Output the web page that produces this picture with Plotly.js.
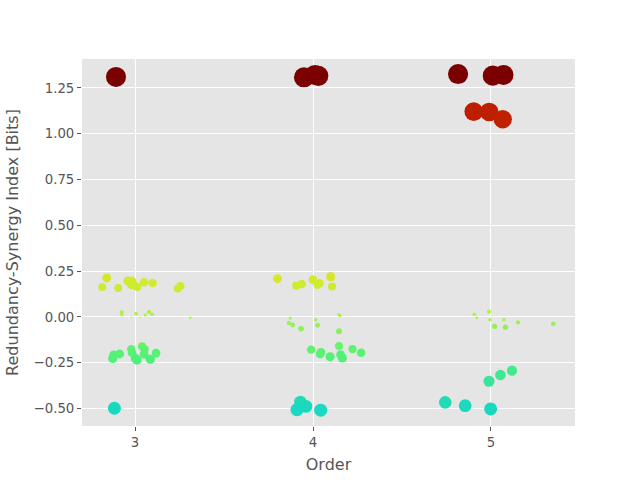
<!DOCTYPE html>
<html>
<head>
<meta charset="utf-8">
<script src="https://cdn.plot.ly/plotly-3.0.1.min.js"></script>
<style>html,body{margin:0;padding:0;background:#fff}#chart{width:640px;height:480px}</style>
</head>
<body>
<div id="chart"></div>
<script>
// Jittered order positions and redundancy-synergy index values
const orderX = [
  // order 3
  2.841, 2.816, 2.906, 2.959, 2.983, 2.978, 3.000, 3.013, 3.051, 3.099, 3.240, 3.255,
  2.925, 2.925, 2.980, 3.006, 3.030, 3.058, 3.079, 3.096, 3.311,
  2.875, 2.880, 2.914, 2.979, 2.983, 3.002, 3.011, 3.039, 3.054, 3.051, 3.086, 3.118,
  2.884,
  2.893,
  // order 4
  3.800, 3.906, 3.937, 4.000, 4.037, 4.025, 4.099, 4.107,
  3.872, 3.865, 3.886, 3.933, 4.015, 4.026, 4.145, 4.152, 4.146,
  3.989, 4.040, 4.045, 4.096, 4.146, 4.155, 4.165, 4.222, 4.270,
  3.929, 3.960, 3.910, 4.043,
  3.949, 4.011, 4.030,
  // order 5
  4.906, 4.920, 4.989, 4.994, 5.020, 5.073, 5.081, 5.152, 5.350,
  5.118, 5.053, 4.989,
  4.743, 4.855, 4.998,
  4.815, 5.010, 5.070,
  4.903, 4.990, 5.066
];
const rsiValues = [
  // order 3
  0.213, 0.164, 0.158, 0.197, 0.197, 0.175, 0.170, 0.164, 0.189, 0.186, 0.155, 0.169,
  0.026, 0.013, 0.000, 0.018, 0.000, 0.011, 0.027, 0.015, -0.004,
  -0.226, -0.207, -0.202, -0.176, -0.195, -0.226, -0.235, -0.160, -0.176, -0.204, -0.231, -0.197,
  -0.498,
  1.310,
  // order 4
  0.209, 0.171, 0.180, 0.204, 0.184, 0.175, 0.220, 0.166,
  -0.007, -0.033, -0.044, -0.064, -0.015, -0.045, 0.013, 0.007, -0.078,
  -0.178, -0.202, -0.193, -0.217, -0.158, -0.206, -0.224, -0.175, -0.195,
  -0.464, -0.488, -0.506, -0.509,
  1.308, 1.321, 1.316,
  // order 5
  0.015, -0.005, 0.029, -0.015, -0.051, -0.015, -0.056, -0.029, -0.037,
  -0.293, -0.317, -0.351,
  -0.466, -0.484, -0.502,
  1.326, 1.317, 1.321,
  1.121, 1.119, 1.079
];
const xTicks = [3, 4, 5];
const yTicks = [-0.5, -0.25, 0, 0.25, 0.5, 0.75, 1.0, 1.25];

// marker diameter grows with |value|
const sizes = rsiValues.map(v => 1.5 + 16.2 * Math.sqrt(Math.abs(v)));

const cmin = -0.55, cmax = 1.35;
const stop = v => (v - cmin) / (cmax - cmin);
const colorscale = [
  [0, '#18d6c6'],
  [stop(-0.5), '#1ad8c0'],
  [stop(-0.2), '#56f274'],
  [stop(0.0), '#a6f24c'],
  [stop(0.2), '#d4ea2c'],
  [0.65, '#f08a20'],
  [stop(1.05), '#c22200'],
  [stop(1.13), '#bc1e00'],
  [stop(1.30), '#7c0000'],
  [1, '#780000']
];

const trace = {
  type: 'scatter',
  mode: 'markers',
  x: orderX,
  y: rsiValues,
  marker: {
    size: sizes,
    color: rsiValues,
    cmin: cmin,
    cmax: cmax,
    colorscale: colorscale,
    showscale: false,
    line: {width: 0},
    opacity: 1
  },
  hoverinfo: 'x+y'
};

const layout = {
  width: 640,
  height: 480,
  margin: {l: 82, r: 65, t: 59, b: 54},
  paper_bgcolor: '#ffffff',
  plot_bgcolor: '#E5E5E5',
  showlegend: false,
  font: {family: 'DejaVu Sans', color: '#555555'},
  xaxis: {
    range: [2.702, 5.472],
    tickvals: xTicks,
    ticktext: xTicks.map(String),
    ticks: 'outside',
    ticklen: 4,
    tickwidth: 1,
    tickcolor: '#555555',
    tickfont: {size: 13.3, color: '#555555'},
    showgrid: true,
    gridcolor: '#ffffff',
    gridwidth: 1,
    zeroline: false,
    showline: false,
    title: {text: 'Order', font: {size: 16, color: '#555555'}, standoff: 9}
  },
  yaxis: {
    range: [-0.595, 1.408],
    tickvals: yTicks,
    tickformat: '.2f',
    ticks: 'outside',
    ticklen: 4,
    tickwidth: 1,
    tickcolor: '#555555',
    tickfont: {size: 13.3, color: '#555555'},
    showgrid: true,
    gridcolor: '#ffffff',
    gridwidth: 1,
    zeroline: false,
    showline: false,
    title: {text: 'Redundancy-Synergy Index [Bits]', font: {size: 16, color: '#555555'}, standoff: 10}
  }
};

Plotly.newPlot('chart', [trace], layout, {displayModeBar: false, staticPlot: true});
</script>
</body>
</html>
